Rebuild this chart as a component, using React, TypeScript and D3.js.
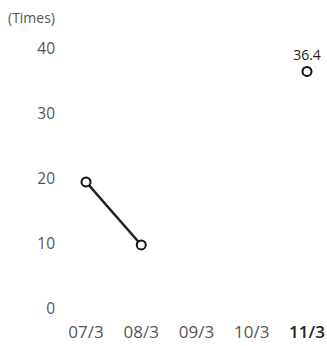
import React from "react";
import * as d3 from "d3";

const categories = ["07/3", "08/3", "09/3", "10/3", "11/3"];
const values: (number | null)[] = [19.4, 9.7, null, null, 36.4];
const yTicks = [0, 10, 20, 30, 40];
const unitLabel = "(Times)";

const W = 327;
const H = 346;

export default function App() {
  const x = d3.scalePoint<string>().domain(categories).range([86, 307]);
  const y = d3.scaleLinear().domain([0, 40]).range([308, 48]);

  const pts = categories.map((c, i) => ({ c, v: values[i], i }));
  const line = d3
    .line<{ c: string; v: number | null }>()
    .defined((d) => d.v !== null)
    .x((d) => x(d.c) as number)
    .y((d) => y(d.v as number));

  const font = "'Open Sans', 'Noto Sans', sans-serif";
  const lastIdx = categories.length - 1;

  return (
    <svg
      width={W}
      height={H}
      style={{ position: "absolute", left: 0, top: 0, background: "#fff" }}
      fontFamily={font}
    >
      <text x={8} y={17} dominantBaseline="central" fontSize={14} fill="#555">
        {unitLabel}
      </text>
      {yTicks.map((t) => (
        <text
          key={t}
          x={55}
          y={y(t)}
          textAnchor="end"
          dominantBaseline="central"
          fontSize={15.5}
          fill="#555"
        >
          {t}
        </text>
      ))}
      {categories.map((c, i) => (
        <text
          key={c}
          x={x(c) as number}
          y={331}
          textAnchor="middle"
          dominantBaseline="central"
          fontSize={17}
          fontWeight={i === lastIdx ? 600 : 400}
          fill={i === lastIdx ? "#222" : "#555"}
        >
          {c}
        </text>
      ))}
      <path d={line(pts) || ""} fill="none" stroke="#222" strokeWidth={2.5} />
      {pts
        .filter((d) => d.v !== null)
        .map((d) => (
          <circle
            key={d.c}
            cx={x(d.c) as number}
            cy={y(d.v as number)}
            r={4.5}
            fill="#fff"
            stroke="#111"
            strokeWidth={2}
          />
        ))}
      <text
        x={x(categories[lastIdx]) as number}
        y={y(values[lastIdx] as number) - 17}
        textAnchor="middle"
        dominantBaseline="central"
        fontSize={14}
        fill="#222"
      >
        {String(values[lastIdx])}
      </text>
    </svg>
  );
}
